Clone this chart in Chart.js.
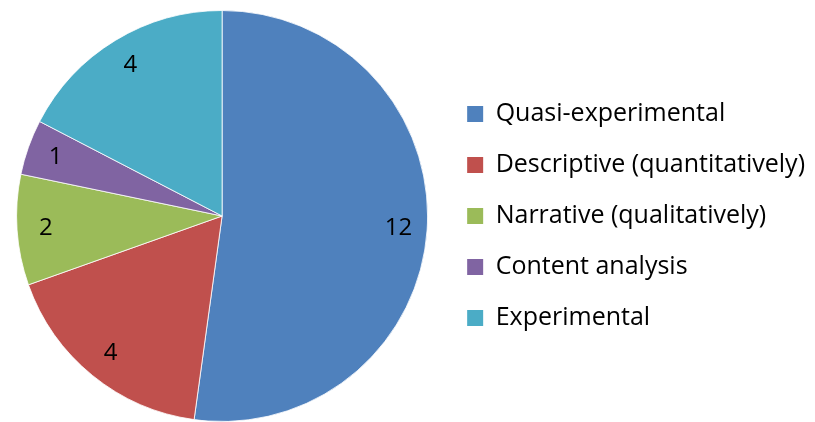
<!DOCTYPE html>
<html>
<head>
<meta charset="utf-8">
<script src="https://cdn.jsdelivr.net/npm/chart.js@4.4.1/dist/chart.umd.min.js"></script>
<style>
  html, body { margin: 0; padding: 0; background: #fff; }
  #wrap { width: 815px; height: 422px; }
</style>
</head>
<body>
<div id="wrap"><canvas id="methodsChart"></canvas></div>
<script>
// study designs pie
var categories = ['Quasi-experimental', 'Descriptive (quantitatively)', 'Narrative (qualitatively)', 'Content analysis', 'Experimental'];
var counts = [12, 4, 2, 1, 4];
var sliceColors = ['#4F81BD', '#C0504D', '#9BBB59', '#8064A2', '#4BACC6'];

var FONT = '"Open Sans", "Noto Sans", sans-serif';

// value labels inside the slices, near the outer edge
var sliceLabels = {
    id: 'sliceLabels',
    afterDatasetsDraw: function(chart) {
        var ctx = chart.ctx;
        var meta = chart.getDatasetMeta(0);
        ctx.save();
        ctx.font = '24px ' + FONT;
        ctx.fillStyle = '#000';
        ctx.textAlign = 'center';
        ctx.textBaseline = 'middle';
        meta.data.forEach(function(arc, i) {
            var p = arc.getProps(['x', 'y', 'startAngle', 'endAngle', 'outerRadius'], true);
            var mid = (p.startAngle + p.endAngle) / 2;
            var r = p.outerRadius * 0.86;
            ctx.fillText(String(counts[i]), p.x + Math.cos(mid) * r, p.y + Math.sin(mid) * r);
        });
        ctx.restore();
    }
};

var ctx = document.getElementById('methodsChart').getContext('2d');
var myChart = new Chart(ctx, {
    type: 'pie',
    data: {
        labels: categories,
        datasets: [{
            data: counts,
            backgroundColor: sliceColors,
            borderColor: 'rgba(255,255,255,0.8)',
            borderWidth: 1
        }]
    },
    options: {
        responsive: true,
        maintainAspectRatio: false,
        animation: false,
        layout: {
            padding: { left: 3, right: 0, top: 10, bottom: 0 }
        },
        plugins: {
            tooltip: { enabled: false },
            legend: {
                position: 'right',
                labels: {
                    boxWidth: 16,
                    boxHeight: 16,
                    padding: 26,
                    color: '#000',
                    font: { family: FONT, size: 25 },
                    generateLabels: function(chart) {
                        var items = Chart.overrides.pie.plugins.legend.labels.generateLabels(chart);
                        items.forEach(function(it) {
                            it.lineWidth = 0;
                            it.strokeStyle = it.fillStyle;
                        });
                        return items;
                    }
                }
            }
        }
    },
    plugins: [sliceLabels]
});
</script>
</body>
</html>
